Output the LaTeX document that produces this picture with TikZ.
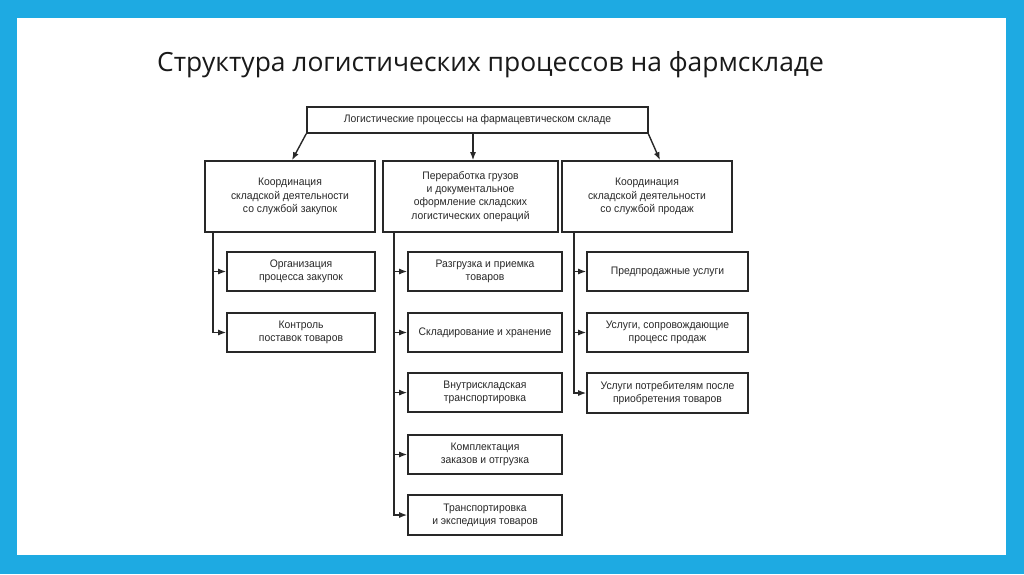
\documentclass[tikz,border=0pt]{standalone}
\usepackage{fontspec}
\setmainfont{Liberation Sans}
\newfontfamily\titlefont{Open Sans}
\newfontfamily\boxfont[FakeStretch=0.95]{Liberation Sans}
\usetikzlibrary{arrows.meta}
\definecolor{frameblue}{RGB}{30,170,226}
\definecolor{ink}{RGB}{40,40,40}
\begin{document}
\begin{tikzpicture}[x=1pt,y=-1pt,
  box/.style={draw=ink, line width=1.6pt, fill=white, inner sep=1pt, align=center,
    font=\boxfont\fontsize{10.9}{13.2}\selectfont, text=ink},
  link/.style={draw=ink, line width=1.4pt},
  arr/.style={link, -{Latex[length=8pt,width=6pt]}}]
\useasboundingbox (0,0) rectangle (1024,574);
\fill[frameblue] (0,0) rectangle (1024,574);
\fill[white] (17,18) rectangle (1006,555);
\node[anchor=base, font=\titlefont\fontsize{26.4}{30}\selectfont, text=black!90] (title) at (490.5,71) {Структура логистических процессов на фармскладе};
% top
\node[box, minimum width=341pt, minimum height=26pt] (top) at (477.5,120) {Логистические процессы на фармацевтическом складе};
% second level
\node[box, minimum width=170pt, minimum height=71pt] (L) at (290,196.5) {Координация\\складской деятельности\\со службой закупок};
\node[box, minimum width=175pt, minimum height=71pt] (M) at (470.5,196.5) {Переработка грузов\\и документальное\\оформление складских\\логистических операций};
\node[box, minimum width=170pt, minimum height=71pt] (R) at (647,196.5) {Координация\\складской деятельности\\со службой продаж};
% arrows from top
\coordinate (tm) at (473,133);
\coordinate (tr) at (648,133);
\draw[arr] (top.south west) -- (L.north -| 292,0);
\draw[arr] (tm) -- (tm |- M.north);
\draw[arr] (tr) -- (R.north -| 660,0);
% left children
\node[box, minimum width=148pt, minimum height=39pt] (L1) at (301,271.5) {Организация\\процесса закупок};
\node[box, minimum width=148pt, minimum height=39pt] (L2) at (301,332.5) {Контроль\\поставок товаров};
% middle children
\node[box, minimum width=154pt, minimum height=39pt] (M1) at (485,271.5) {Разгрузка и приемка\\товаров};
\node[box, minimum width=154pt, minimum height=39pt] (M2) at (485,332.5) {Складирование и хранение};
\node[box, minimum width=154pt, minimum height=39pt] (M3) at (485,392.6) {Внутрискладская\\транспортировка};
\node[box, minimum width=154pt, minimum height=39pt] (M4) at (485,454.5) {Комплектация\\заказов и отгрузка};
\node[box, minimum width=154pt, minimum height=40pt] (M5) at (485,515) {Транспортировка\\и экспедиция товаров};
% right children
\node[box, minimum width=161pt, minimum height=39pt] (R1) at (667.5,271.5) {Предпродажные услуги};
\node[box, minimum width=161pt, minimum height=39pt] (R2) at (667.5,332.5) {Услуги, сопровождающие\\процесс продаж};
\node[box, minimum width=161pt, minimum height=40pt] (R3) at (667.5,393) {Услуги потребителям после\\приобретения товаров};
% trunks
\coordinate (lx) at (213,232);
\coordinate (mx) at (394,232);
\coordinate (rx) at (574,232);
\draw[arr] (lx |- L.south) |- (L2.west);
\draw[arr] (lx |- L1.west) -- (L1.west);
\draw[arr] (mx |- M.south) |- (M5.west);
\draw[arr] (mx |- M1.west) -- (M1.west);
\draw[arr] (mx |- M2.west) -- (M2.west);
\draw[arr] (mx |- M3.west) -- (M3.west);
\draw[arr] (mx |- M4.west) -- (M4.west);
\draw[arr] (rx |- R.south) |- (R3.west);
\draw[arr] (rx |- R1.west) -- (R1.west);
\draw[arr] (rx |- R2.west) -- (R2.west);
\end{tikzpicture}
\end{document}
